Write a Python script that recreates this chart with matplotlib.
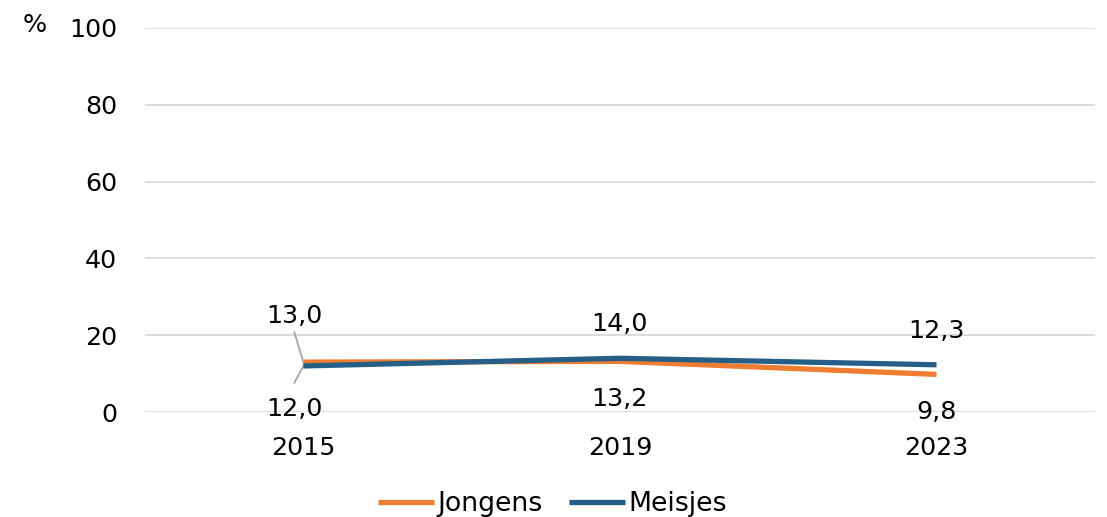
import matplotlib
matplotlib.use("Agg")
import matplotlib.pyplot as plt

years = ["2015", "2019", "2023"]
jongens = [13.0, 13.2, 9.8]
meisjes = [12.0, 14.0, 12.3]
jongens_labels = ["13,0", "13,2", "9,8"]
meisjes_labels = ["12,0", "14,0", "12,3"]
yticks = [0, 20, 40, 60, 80, 100]

c_j = "#EE7D31"
c_m = "#255E86"
FS = 18.3
FS_LEG = 19.3

plt.rcParams['font.family'] = ['DejaVu Sans']
fig = plt.figure(figsize=(11.07, 5.17), dpi=100)
ax = fig.add_axes([0.131, 0.203, 0.858, 0.743])

x = list(range(len(years)))
ax.plot(x, jongens, color=c_j, lw=3.8, label="Jongens", solid_capstyle="butt", zorder=3)
ax.plot(x, meisjes, color=c_m, lw=3.8, label="Meisjes", solid_capstyle="butt", zorder=4)

ax.set_xlim(-0.5, 2.5)
ax.set_ylim(0, 100)
ax.set_yticks(yticks)
ax.set_yticklabels([str(v) for v in yticks])
ax.set_xticks(x)
ax.set_xticklabels(years)
ax.tick_params(axis='both', length=0, labelsize=FS, colors="black")
ax.tick_params(axis='y', pad=20)
ax.tick_params(axis='x', pad=17)
ax.grid(axis='y', color="#D9D9D9", lw=1.3)
ax.set_axisbelow(True)
for s in ax.spines.values():
    s.set_visible(False)

# data labels
for i in x:
    j, m = jongens[i], meisjes[i]
    if i == 0:
        ax.annotate(jongens_labels[i], xy=(i, j), xytext=(-9, 46), textcoords="offset pixels",
                    ha="center", va="center", fontsize=FS)
        ax.annotate(meisjes_labels[i], xy=(i, m), xytext=(-9, -43), textcoords="offset pixels",
                    ha="center", va="center", fontsize=FS)
        ax.annotate("", xy=(i, j), xytext=(-9, 30), textcoords="offset pixels",
                    arrowprops=dict(arrowstyle="-", color="#A6A6A6", lw=1.3, shrinkA=0, shrinkB=0))
        ax.annotate("", xy=(i, m), xytext=(-9, -17), textcoords="offset pixels",
                    arrowprops=dict(arrowstyle="-", color="#A6A6A6", lw=1.3, shrinkA=0, shrinkB=0))
    else:
        if m >= j:
            up_lab, up_v, lo_lab, lo_v = meisjes_labels[i], m, jongens_labels[i], j
        else:
            up_lab, up_v, lo_lab, lo_v = jongens_labels[i], j, meisjes_labels[i], m
        ax.annotate(up_lab, xy=(i, up_v), xytext=(0, 34), textcoords="offset pixels",
                    ha="center", va="center", fontsize=FS)
        ax.annotate(lo_lab, xy=(i, lo_v), xytext=(0, -38), textcoords="offset pixels",
                    ha="center", va="center", fontsize=FS)

fig.text(35 / 1107, 1 - 25 / 517, "%", ha="center", va="center", fontsize=FS)

leg = fig.legend(loc="center", bbox_to_anchor=(0.499, 1 - 504 / 517), ncol=2, frameon=False,
                 fontsize=FS_LEG, handlelength=2.1, handletextpad=0.12, columnspacing=1.0)

fig.savefig("out.png", dpi=100)
